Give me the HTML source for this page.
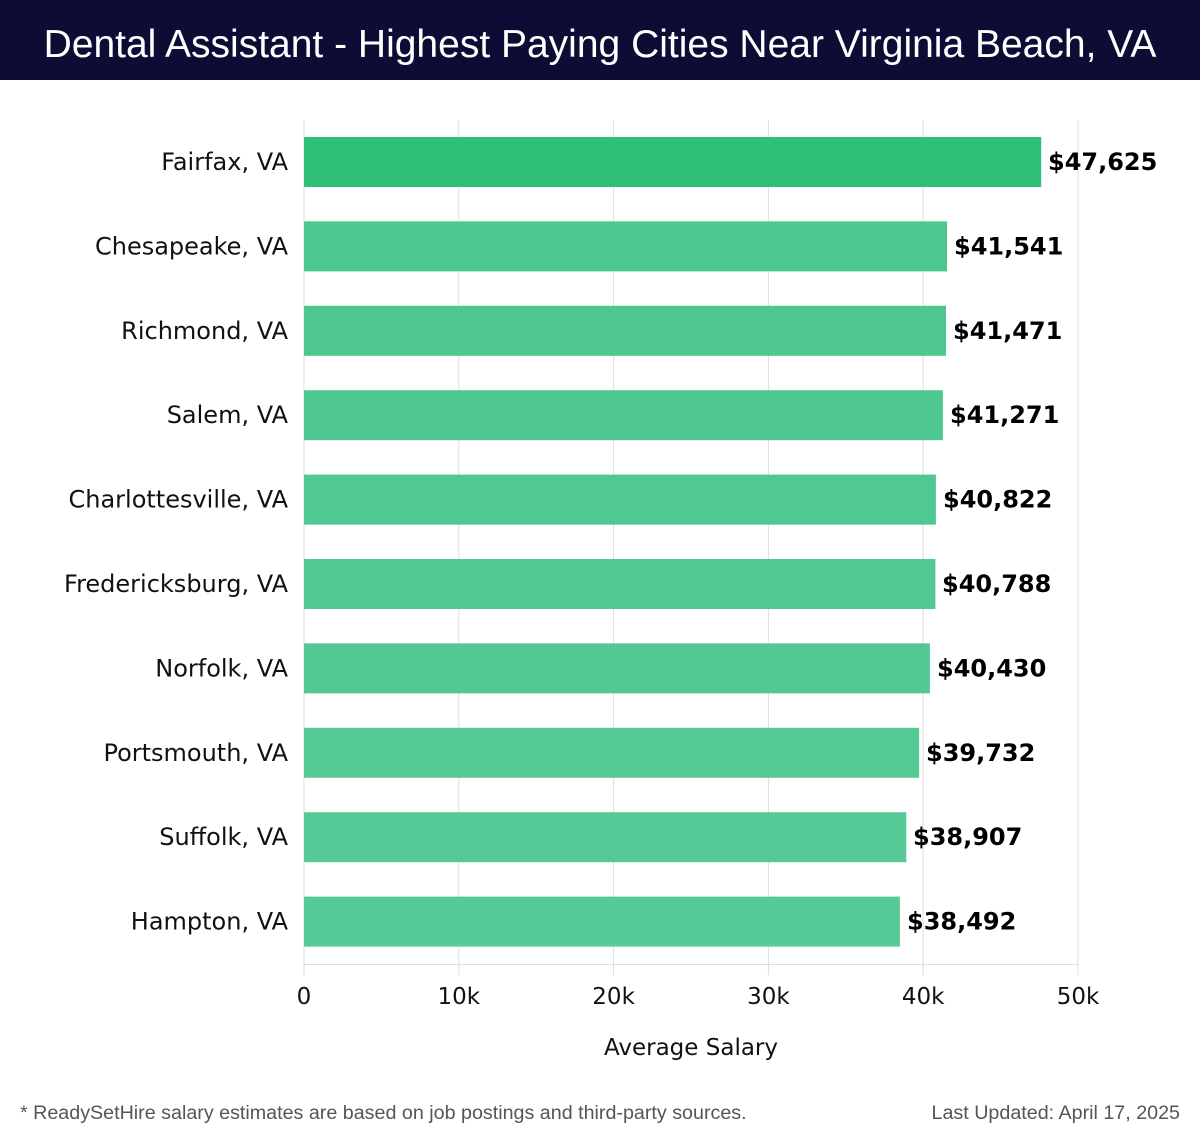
<!DOCTYPE html>
<html><head><meta charset="utf-8"><style>
body{margin:0;background:#fff;}
svg{display:block;font-family:"DejaVu Sans","Liberation Sans",sans-serif;}
</style></head><body>
<svg width="1200" height="1140" viewBox="0 0 1200 1140" xmlns="http://www.w3.org/2000/svg">
<rect width="1200" height="1140" fill="#fff"/>
<rect width="1200" height="80" fill="#0c0c35"/>
<text x="600" y="57" text-anchor="middle" fill="#fff" font-size="39" font-family="Liberation Sans, sans-serif">Dental Assistant - Highest Paying Cities Near Virginia Beach, VA</text>
<g stroke="#dddddd" stroke-width="1">
<line x1="304" y1="120" x2="304" y2="975"/>
<line x1="458.8" y1="120" x2="458.8" y2="975"/>
<line x1="613.6" y1="120" x2="613.6" y2="975"/>
<line x1="768.4" y1="120" x2="768.4" y2="975"/>
<line x1="923.2" y1="120" x2="923.2" y2="975"/>
<line x1="1078" y1="120" x2="1078" y2="975"/>
<line x1="304" y1="964.5" x2="1078" y2="964.5"/>
</g>
<g>
<rect x="304" y="137" width="737.2" height="50" fill="#2ebf77"/>
<rect x="304" y="221.4" width="643" height="50" fill="#4cc78e"/>
<rect x="304" y="305.8" width="642" height="50" fill="#4dc78e"/>
<rect x="304" y="390.2" width="638.9" height="50" fill="#4ec890"/>
<rect x="304" y="474.6" width="631.9" height="50" fill="#50c891"/>
<rect x="304" y="559" width="631.4" height="50" fill="#51c992"/>
<rect x="304" y="643.4" width="625.9" height="50" fill="#52c993"/>
<rect x="304" y="727.8" width="615.1" height="50" fill="#54ca94"/>
<rect x="304" y="812.2" width="602.3" height="50" fill="#56ca96"/>
<rect x="304" y="896.6" width="595.9" height="50" fill="#57cb97"/>
</g>
<g font-size="24" fill="#111" text-anchor="end">
<text x="288" y="170">Fairfax, VA</text>
<text x="288" y="254.4">Chesapeake, VA</text>
<text x="288" y="338.8">Richmond, VA</text>
<text x="288" y="423.2">Salem, VA</text>
<text x="288" y="507.6">Charlottesville, VA</text>
<text x="288" y="592">Fredericksburg, VA</text>
<text x="288" y="676.4">Norfolk, VA</text>
<text x="288" y="760.8">Portsmouth, VA</text>
<text x="288" y="845.2">Suffolk, VA</text>
<text x="288" y="929.6">Hampton, VA</text>
</g>
<g font-size="24" font-weight="bold" fill="#000">
<text x="1048" y="170">$47,625</text>
<text x="954" y="254.4">$41,541</text>
<text x="953" y="338.8">$41,471</text>
<text x="950" y="423.2">$41,271</text>
<text x="943" y="507.6">$40,822</text>
<text x="942" y="592">$40,788</text>
<text x="937" y="676.4">$40,430</text>
<text x="926" y="760.8">$39,732</text>
<text x="913" y="845.2">$38,907</text>
<text x="907" y="929.6">$38,492</text>
</g>
<g font-size="23" fill="#111" text-anchor="middle">
<text x="304" y="1004">0</text>
<text x="458.8" y="1004">10k</text>
<text x="613.6" y="1004">20k</text>
<text x="768.4" y="1004">30k</text>
<text x="923.2" y="1004">40k</text>
<text x="1078" y="1004">50k</text>
<text x="691" y="1055">Average Salary</text>
</g>
<text x="20" y="1119" font-size="19.7" fill="#555" font-family="Liberation Sans, sans-serif">* ReadySetHire salary estimates are based on job postings and third-party sources.</text>
<text x="1180" y="1119" font-size="19.7" fill="#555" text-anchor="end" font-family="Liberation Sans, sans-serif">Last Updated: April 17, 2025</text>
</svg>
</body></html>
